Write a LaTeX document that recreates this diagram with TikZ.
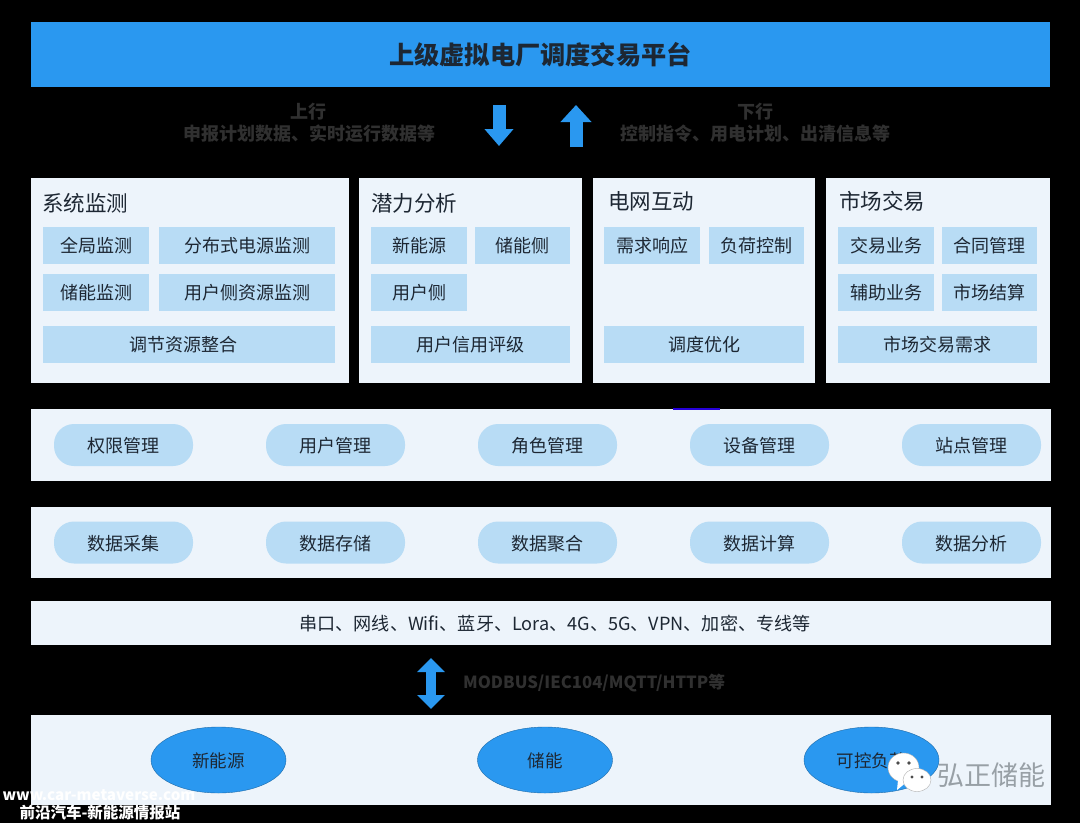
\documentclass[tikz,border=0pt]{standalone}
\usepackage{fontspec}
\setmainfont{Noto Sans CJK SC}
\usepackage{xcolor}
\usetikzlibrary{positioning,arrows.meta,shapes.geometric}
\definecolor{barblue}{HTML}{2A98F0}
\definecolor{panelbg}{HTML}{EDF4FB}
\definecolor{tileblue}{HTML}{B8DCF5}
\definecolor{inkdark}{HTML}{1D2733}
\definecolor{inkdim}{HTML}{303030}
\definecolor{marktext}{HTML}{98A0A6}

\begin{document}
\begin{tikzpicture}[
    x=1pt,
    y=-1pt,
    >=Stealth
]


\tikzstyle{band}=[
    fill=panelbg,
    inner sep=0pt,
    outer sep=0pt,
    text=inkdark,
    anchor=north west
]
\tikzstyle{tile}=[
    fill=tileblue,
    inner sep=0pt,
    outer sep=0pt,
    text=inkdark,
    text height=17.6pt,
    text depth=2pt,
    minimum height=37pt,
    font=\fontsize{18}{20}\selectfont
]
\tikzstyle{tileS}=[tile, minimum width=96pt]
\tikzstyle{head}=[
    anchor=west,
    inner sep=0pt,
    text=inkdark,
    font=\fontsize{21.5}{23}\selectfont
]
\tikzstyle{pill}=[
    tile,
    rounded corners=20pt,
    minimum width=139pt,
    minimum height=42pt
]
\tikzstyle{source}=[
    ellipse,
    draw=barblue!70!black,
    fill=barblue,
    inner sep=0pt,
    text=inkdark,
    text height=17.3pt,
    text depth=2pt,
    minimum width=135pt,
    minimum height=66pt,
    font=\fontsize{17.5}{20}\selectfont
]
\tikzstyle{dimtext}=[
    text=inkdim,
    inner sep=0pt,
    font=\bfseries\fontsize{18}{20}\selectfont
]
\tikzstyle{flow}=[
    draw=barblue,
    line width=13pt
]


\fill[black] (0,0) rectangle (1080,823);


\node[fill=barblue, inner sep=0pt, outer sep=0pt, anchor=north west, minimum width=1019pt, minimum height=65pt,
    text=inkdark, font=\bfseries\fontsize{25.2}{28}\selectfont] (top) at (31,22) {上级虚拟电厂调度交易平台};


\node[dimtext] (upA) at (308,112) {上行};
\node[dimtext] (upB) at (309,134) {申报计划数据、实时运行数据等};
\node[dimtext] (downA) at (755,112) {下行};
\node[dimtext] (downB) at (755,134) {控制指令、用电计划、出清信息等};

\coordinate (dnS) at (499,105);
\coordinate (dnE) at (499,146);
\coordinate (unS) at (576,147);
\coordinate (unE) at (576,105);
\draw[flow, -{Triangle[width=28pt,length=17pt]}] (dnS) -- (dnE);
\draw[flow, -{Triangle[width=30pt,length=17pt]}] (unS) -- (unE);


\node[band, minimum width=318pt, minimum height=205pt] (sys) at (31,178) {};
\node[band, minimum width=223pt, minimum height=205pt] (pot) at (359,178) {};
\node[band, minimum width=222pt, minimum height=205pt] (grid) at (593,178) {};
\node[band, minimum width=224pt, minimum height=205pt] (mkt) at (826,178) {};


\node[head] (sysT) at (42,203) {系统监测};
\node[tile, minimum width=106pt] (s1) at (96,245) {全局监测};
\node[tile, minimum width=176pt, right=10pt of s1] (s2) {分布式电源监测};
\node[tile, minimum width=106pt, below=10pt of s1] (s3) {储能监测};
\node[tile, minimum width=176pt, right=10pt of s3] (s4) {用户侧资源监测};
\node[tile, minimum width=292pt] (s5) at (189,344) {\hspace*{-12pt}调节资源整合};


\node[head] (potT) at (371,203) {潜力分析};
\node[tileS] (p1) at (419,245) {新能源};
\node[tileS, minimum width=95pt, right=8pt of p1] (p2) {储能侧};
\node[tileS, below=10pt of p1] (p3) {用户侧};
\node[tile, minimum width=199pt] (p4) at (470.5,344) {用户信用评级};


\node[head] (gridT) at (608,201) {电网互动};
\node[tileS] (g1) at (652,245) {需求响应};
\node[tileS, minimum width=95pt, right=9pt of g1] (g2) {负荷控制};
\node[tile, minimum width=200pt] (g3) at (704,344) {调度优化};


\node[head] (mktT) at (839,201) {市场交易};
\node[tileS] (m1) at (886,245) {交易业务};
\node[tileS, minimum width=95pt, right=8pt of m1] (m2) {合同管理};
\node[tileS, below=10pt of m1] (m3) {辅助业务};
\node[tileS, minimum width=95pt, right=8pt of m3] (m4) {市场结算};
\node[tile, minimum width=199pt] (m5) at (937.5,344) {市场交易需求};


\node[band, minimum width=1020pt, minimum height=72pt] (mgmt) at (31,409) {};
\fill[blue!70!violet] (673,408) rectangle (720,409.5);
\node[pill] (a1) at (123.5,445) {权限管理};
\node[pill, right=73pt of a1] (a2) {用户管理};
\node[pill, right=73pt of a2] (a3) {角色管理};
\node[pill, right=73pt of a3] (a4) {设备管理};
\node[pill, right=73pt of a4] (a5) {站点管理};


\node[band, minimum width=1020pt, minimum height=71pt] (data) at (31,507) {};
\node[pill] (d1) at (123.5,542.5) {数据采集};
\node[pill, right=73pt of d1] (d2) {数据存储};
\node[pill, right=73pt of d2] (d3) {数据聚合};
\node[pill, right=73pt of d3] (d4) {数据计算};
\node[pill, right=73pt of d4] (d5) {数据分析};


\node[band, minimum width=1020pt, minimum height=44pt, text height=17.7pt, text depth=2pt, font=\fontsize{18.1}{20}\selectfont] (link) at (31,601) {\hspace*{28pt}串口、网线、Wifi、蓝牙、Lora、4G、5G、VPN、加密、专线等};


\coordinate (both) at (431,658);
\coordinate (bothE) at (431,709);
\draw[flow, line width=10pt, {Triangle[width=27pt,length=14pt]}-{Triangle[width=27pt,length=14pt]}] (both) -- (bothE);
\node[dimtext, anchor=west, font=\bfseries\fontsize{16.7}{20}\selectfont] (proto) at (463,683) {MODBUS/IEC104/MQTT/HTTP等};


\node[band, minimum width=1020pt, minimum height=90pt] (field) at (31,715) {};
\node[source] (e1) at (218.5,760) {新能源};
\node[source] (e2) at (545,760) {储能};
\node[source] (e3) at (871.5,760) {可控负荷};


% watermark
\fill[white, draw=gray!60] (903.5,767.5) ellipse (15.5pt and 14.5pt);
\fill[white] (898,780) -- (897,790) -- (908,781) -- cycle;
\fill[black!70] (898,763) circle (1.8pt) (909,763) circle (1.8pt);
\fill[white, draw=gray!60] (917,780) ellipse (14pt and 11.5pt);
\fill[black!70] (912,777) circle (1.6pt) (922,777) circle (1.6pt);
\node[text=marktext, inner sep=0pt, font=\fontsize{27}{29}\selectfont] (brand) at (991,775) {弘正储能};
\node[text=white, inner sep=0pt, font=\bfseries\fontsize{15.2}{16}\selectfont] (site) at (99,795) {www.car-metaverse.com};
\node[text=white, inner sep=0pt, font=\bfseries\fontsize{15.5}{16}\selectfont] (siteB) at (100,813) {前沿汽车-新能源情报站};

\end{tikzpicture}
\end{document}
